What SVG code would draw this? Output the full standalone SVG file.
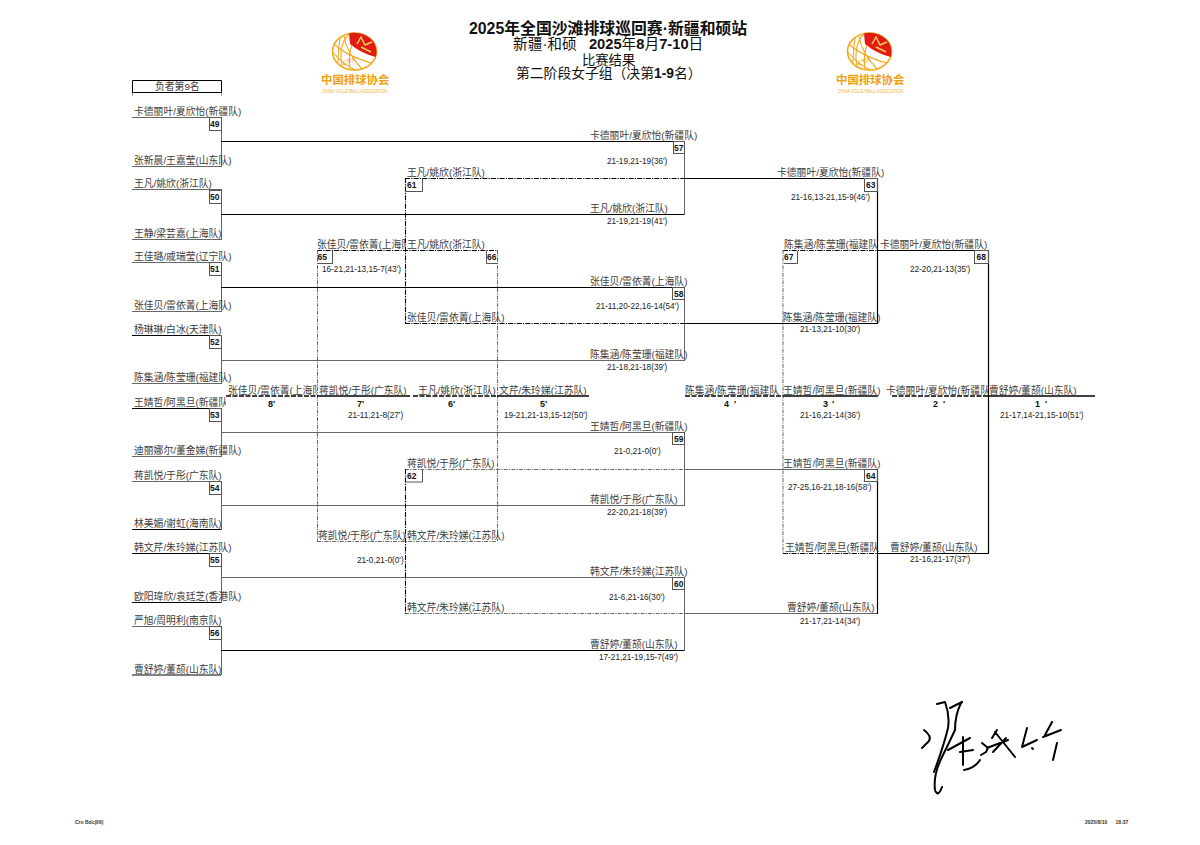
<svg xmlns="http://www.w3.org/2000/svg" width="1200" height="845" viewBox="0 0 1200 845">
<style>
text{font-family:"Liberation Sans","Noto Sans CJK SC",sans-serif;white-space:pre}
.t{font-size:9.8px;fill:#3c3c3c}
.s{font-size:8.2px;fill:#222}
.n{font-size:8.5px;font-weight:bold;fill:#111}
.p{font-size:9px;font-weight:bold;fill:#111}
.h{fill:#111}
.l0{font-size:15.85px}
.l1{font-size:14.7px}
.l2{font-size:13.3px}
.l3{font-size:13.8px}
.lg{font-size:11.4px;font-weight:bold;fill:#f0a010}
.le{font-size:5px;fill:#eeb040}
.cva{font-size:7px;font-weight:bold;font-style:italic;fill:#eea010;font-family:"Liberation Serif",serif}
.f{font-size:5px;font-weight:bold;fill:#333}
line,path.c,rect{fill:none}
.b{stroke:#000;stroke-width:1.2}
.g{stroke:#666;stroke-width:1}
.bd{stroke:#000;stroke-width:1.1;stroke-dasharray:5 1.2 1.2 1.2}
.gd{stroke:#666;stroke-width:1;stroke-dasharray:4 1.2 1.2 1.2}
.pb{stroke:#000;stroke-width:1.6}
.pd{stroke:#000;stroke-width:1.6;stroke-dasharray:5 1.5}
.box{stroke:#555;stroke-width:1;fill:none}
.sig{fill:none;stroke:#000;stroke-width:2;stroke-linecap:round;stroke-linejoin:round}
</style>
<defs>
<clipPath id="c1"><rect x="130" y="392" width="96" height="20"/></clipPath>
<clipPath id="c2"><rect x="226" y="380" width="91" height="20"/></clipPath>
<clipPath id="c3"><rect x="886" y="380" width="102" height="20"/></clipPath>
<clipPath id="c4"><rect x="317" y="238" width="88" height="14"/></clipPath>
<g id="ball">
<ellipse cx="354.5" cy="51.5" rx="22" ry="18.5" fill="#fff" stroke="#f2a81c" stroke-width="1.6"/>
<path d="M349,33.4 A22,18.5 0 0 1 376.5,51.5 L376,57 Q362,54 350,44 Z" fill="#e11a12"/>
<path d="M357,44 L361,37 L365,45 L372,42 M361,47 L371,52" fill="none" stroke="#f6d060" stroke-width="1.5"/>
<path d="M349,34 Q338,45 342,67 M344,36 Q346,52 362,69 M334,44 Q345,55 371,63 M332.5,52 Q345,66 356,70 M352,45 Q348,55 350,69 M340,38 Q338,50 338,62" fill="none" stroke="#f2a81c" stroke-width="1.1"/>
</g>
</defs>

<g id="connectors">
<line class="g" x1="132" y1="117.5" x2="221" y2="117.5"/>
<line class="g" x1="132" y1="166.5" x2="221" y2="166.5"/>
<line class="g" x1="132" y1="189.5" x2="221" y2="189.5"/>
<line class="g" x1="132" y1="239.5" x2="221" y2="239.5"/>
<line class="g" x1="132" y1="262.5" x2="221" y2="262.5"/>
<line class="g" x1="132" y1="311.5" x2="221" y2="311.5"/>
<line class="b" x1="132" y1="335.5" x2="221" y2="335.5"/>
<line class="g" x1="132" y1="383.5" x2="221" y2="383.5"/>
<line class="b" x1="132" y1="408.5" x2="221" y2="408.5"/>
<line class="g" x1="132" y1="456.5" x2="221" y2="456.5"/>
<line class="g" x1="132" y1="481.5" x2="221" y2="481.5"/>
<line class="b" x1="132" y1="529.5" x2="221" y2="529.5"/>
<line class="b" x1="132" y1="553.5" x2="221" y2="553.5"/>
<line class="b" x1="132" y1="602.5" x2="221" y2="602.5"/>
<line class="g" x1="132" y1="626.5" x2="221" y2="626.5"/>
<line class="b" x1="132" y1="675" x2="221" y2="675"/>
<line class="g" x1="221.5" y1="117" x2="221.5" y2="167"/>
<line class="g" x1="221.5" y1="189" x2="221.5" y2="240"/>
<line class="g" x1="221.5" y1="262" x2="221.5" y2="312"/>
<line class="g" x1="221.5" y1="335" x2="221.5" y2="384"/>
<line class="g" x1="221.5" y1="408" x2="221.5" y2="457"/>
<line class="g" x1="221.5" y1="481" x2="221.5" y2="530"/>
<line class="g" x1="221.5" y1="553" x2="221.5" y2="603"/>
<line class="g" x1="221.5" y1="626" x2="221.5" y2="675"/>
<line class="b" x1="221" y1="141.5" x2="685" y2="141.5"/>
<line class="b" x1="221" y1="214.5" x2="685" y2="214.5"/>
<line class="b" x1="221" y1="287.5" x2="685" y2="287.5"/>
<line class="g" x1="221" y1="360.5" x2="685" y2="360.5"/>
<line class="g" x1="221" y1="432.5" x2="685" y2="432.5"/>
<line class="g" x1="221" y1="505.5" x2="685" y2="505.5"/>
<line class="g" x1="221" y1="577.5" x2="685" y2="577.5"/>
<line class="b" x1="221" y1="650.5" x2="685" y2="650.5"/>
<line class="g" x1="684.5" y1="141" x2="684.5" y2="215"/>
<line class="g" x1="684.5" y1="287" x2="684.5" y2="361"/>
<line class="g" x1="684.5" y1="432" x2="684.5" y2="506"/>
<line class="g" x1="684.5" y1="577" x2="684.5" y2="651"/>
<line class="bd" x1="405" y1="178.5" x2="685" y2="178.5"/>
<line class="b" x1="685" y1="178.5" x2="877" y2="178.5"/>
<line class="bd" x1="405.5" y1="178" x2="405.5" y2="324"/>
<line class="bd" x1="405" y1="323.5" x2="685" y2="323.5"/>
<line class="b" x1="685" y1="323.5" x2="877" y2="323.5"/>
<line class="b" x1="877.5" y1="178" x2="877.5" y2="324"/>
<line class="gd" x1="405" y1="469.5" x2="685" y2="469.5"/>
<line class="g" x1="685" y1="469.5" x2="877" y2="469.5"/>
<line class="gd" x1="405" y1="613.5" x2="685" y2="613.5"/>
<line class="g" x1="685" y1="613.5" x2="877" y2="613.5"/>
<line class="bd" x1="405.5" y1="469" x2="405.5" y2="614"/>
<line class="b" x1="877.5" y1="469" x2="877.5" y2="614"/>
<line class="bd" x1="317" y1="250.5" x2="497" y2="250.5"/>
<line class="gd" x1="317.5" y1="250" x2="317.5" y2="541"/>
<line class="gd" x1="497.5" y1="250" x2="497.5" y2="541"/>
<line class="gd" x1="317" y1="541.5" x2="497" y2="541.5"/>
<line class="bd" x1="783" y1="250.5" x2="877" y2="250.5"/>
<line class="b" x1="877" y1="250.5" x2="988" y2="250.5"/>
<line class="gd" x1="783" y1="250" x2="783" y2="553"/>
<line class="bd" x1="783" y1="553.5" x2="877" y2="553.5"/>
<line class="b" x1="877" y1="553.5" x2="989" y2="553.5"/>
<line class="b" x1="988.5" y1="250" x2="988.5" y2="554"/>
<line class="pd" x1="226" y1="396" x2="317" y2="396"/>
<line class="pb" x1="317" y1="396" x2="410" y2="396"/>
<line class="pd" x1="413" y1="396" x2="497" y2="396"/>
<line class="pb" x1="497" y1="396" x2="589" y2="396"/>
<line class="pd" x1="685" y1="396" x2="783" y2="396"/>
<line class="pb" x1="783" y1="396" x2="878" y2="396"/>
<line class="pd" x1="892" y1="396" x2="988" y2="396"/>
<line class="pb" x1="988" y1="396" x2="1095" y2="396"/>
</g>

<g id="title">
<text class="l0 h" x="469" y="34" font-weight="bold">2025年全国沙滩排球巡回赛·新疆和硕站</text>
<text class="l1 h" x="513" y="49"><tspan>新疆·和硕   </tspan><tspan font-weight="bold">2025</tspan>年<tspan font-weight="bold">8</tspan>月<tspan font-weight="bold">7-10</tspan>日</text>
<text class="l2 h" x="582" y="65">比赛结果</text>
<text class="l3 h" x="516" y="78">第二阶段女子组（决第<tspan font-weight="bold">1-9</tspan>名）</text>
</g>

<g id="logo-left">
<use href="#ball"/>
<text class="cva" x="344" y="66" transform="rotate(-25 344 66)">CVA</text>
<text class="lg" x="321" y="84">中国排球协会</text>
<text class="le" x="322" y="93" textLength="65" lengthAdjust="spacingAndGlyphs">CHINA VOLLEYBALL ASSOCIATION</text>
</g>
<g id="logo-right">
<use href="#ball" x="515"/>
<text class="cva" x="859" y="66" transform="rotate(-25 859 66)">CVA</text>
<text class="lg" x="836" y="84">中国排球协会</text>
<text class="le" x="838" y="93" textLength="65" lengthAdjust="spacingAndGlyphs">CHINA VOLLEYBALL ASSOCIATION</text>
</g>

<g id="header-loser">
<path d="M132.5,92.5 V80.5 H221.5 V92.5" fill="none" stroke="#000" stroke-width="1"/>
<line class="b" x1="132" y1="92.5" x2="221.5" y2="92.5"/>
<path d="M132.5,93 V96 M221.5,93 V96" fill="none" stroke="#999"/>
<text class="t" x="155" y="90">负者第9名</text>
</g>

<g id="round1-teams">
<text class="t" x="134" y="115">卡德丽叶/夏欣怡(新疆队)</text>
<text class="t" x="134" y="164">张新晨/王嘉莹(山东队)</text>
<text class="t" x="134" y="187">王凡/姚欣(浙江队)</text>
<text class="t" x="134" y="237">王静/梁芸嘉(上海队)</text>
<text class="t" x="134" y="260">王佳璐/戚瑞莹(辽宁队)</text>
<text class="t" x="134" y="309">张佳贝/雷依菁(上海队)</text>
<text class="t" x="134" y="333">杨琳琳/白冰(天津队)</text>
<text class="t" x="134" y="381">陈集涵/陈莹珊(福建队)</text>
<text class="t" x="134" y="406" clip-path="url(#c1)">王婧哲/阿黑旦(新疆队</text>
<text class="t" x="134" y="454">迪丽娜尔/董金娣(新疆队)</text>
<text class="t" x="134" y="479">蒋凯悦/于彤(广东队)</text>
<text class="t" x="134" y="527">林美媚/谢虹(海南队)</text>
<text class="t" x="134" y="551">韩文芹/朱玲娣(江苏队)</text>
<text class="t" x="134" y="600">欧阳瑋欣/袁廷芝(香港队)</text>
<text class="t" x="134" y="624">严旭/周明利(南京队)</text>
<text class="t" x="134" y="673">曹舒婷/董颉(山东队)</text>
</g>

<g id="m49"><rect class="box" x="209.5" y="117.5" width="12" height="13"/><text class="n" x="210" y="127">49</text></g>
<g id="m50"><rect class="box" x="209.5" y="190.5" width="12" height="13"/><text class="n" x="210" y="200">50</text></g>
<g id="m51"><rect class="box" x="209.5" y="262.5" width="12" height="13"/><text class="n" x="210" y="272">51</text></g>
<g id="m52"><rect class="box" x="209.5" y="335.5" width="12" height="13"/><text class="n" x="210" y="345">52</text></g>
<g id="m53"><rect class="box" x="209.5" y="408.5" width="12" height="13"/><text class="n" x="210" y="418">53</text></g>
<g id="m54"><rect class="box" x="209.5" y="481.5" width="12" height="13"/><text class="n" x="210" y="491">54</text></g>
<g id="m55"><rect class="box" x="209.5" y="553.5" width="12" height="13"/><text class="n" x="210" y="563">55</text></g>
<g id="m56"><rect class="box" x="209.5" y="626.5" width="12" height="13"/><text class="n" x="210" y="636">56</text></g>

<g id="m57"><rect class="box" x="673.5" y="141.5" width="11" height="12"/><text class="n" x="674" y="151">57</text>
<text class="t" x="590" y="139">卡德丽叶/夏欣怡(新疆队)</text><text class="s" x="607" y="164">21-19,21-19(36')</text>
<text class="t" x="590" y="212">王凡/姚欣(浙江队)</text><text class="s" x="607" y="224">21-19,21-19(41')</text></g>
<g id="m58"><rect class="box" x="672.5" y="287.5" width="12" height="12"/><text class="n" x="674" y="297">58</text>
<text class="t" x="590" y="285">张佳贝/雷依菁(上海队)</text><text class="s" x="596" y="309">21-11,20-22,16-14(54')</text>
<text class="t" x="590" y="358">陈集涵/陈莹珊(福建队)</text><text class="s" x="607" y="370">21-18,21-18(39')</text></g>
<g id="m59"><rect class="box" x="672.5" y="432.5" width="12" height="12"/><text class="n" x="674" y="442">59</text>
<text class="t" x="590" y="430">王婧哲/阿黑旦(新疆队)</text><text class="s" x="614" y="454">21-0,21-0(0')</text>
<text class="t" x="590" y="503">蒋凯悦/于彤(广东队)</text><text class="s" x="607" y="515">22-20,21-18(39')</text></g>
<g id="m60"><rect class="box" x="672.5" y="577.5" width="12" height="12"/><text class="n" x="674" y="587">60</text>
<text class="t" x="590" y="575">韩文芹/朱玲娣(江苏队)</text><text class="s" x="609" y="600">21-6,21-16(30')</text>
<text class="t" x="590" y="648">曹舒婷/董颉(山东队)</text><text class="s" x="599" y="660">17-21,21-19,15-7(49')</text></g>

<g id="m61"><path class="box" d="M406,191.5 H422.5 V179"/><text class="n" x="407" y="188">61</text>
<text class="t" x="407" y="176">王凡/姚欣(浙江队)</text>
<text class="t" x="407" y="321">张佳贝/雷依菁(上海队)</text></g>
<g id="m62"><path class="box" d="M406,482 H422.5 V470"/><text class="n" x="407" y="479">62</text>
<text class="t" x="407" y="467">蒋凯悦/于彤(广东队)</text>
<text class="t" x="407" y="611">韩文芹/朱玲娣(江苏队)</text></g>
<g id="m63"><rect class="box" x="864.5" y="178.5" width="13" height="13"/><text class="n" x="866" y="188">63</text>
<text class="t" x="777" y="176">卡德丽叶/夏欣怡(新疆队)</text><text class="s" x="791" y="200">21-16,13-21,15-9(46')</text>
<text class="t" x="783" y="321">陈集涵/陈莹珊(福建队)</text><text class="s" x="800" y="332">21-13,21-10(30')</text></g>
<g id="m64"><rect class="box" x="864.5" y="469.5" width="13" height="12"/><text class="n" x="866" y="479">64</text>
<text class="t" x="783" y="467">王婧哲/阿黑旦(新疆队)</text><text class="s" x="788" y="490">27-25,16-21,18-16(58')</text>
<text class="t" x="787" y="611">曹舒婷/董颉(山东队)</text><text class="s" x="800" y="624">21-17,21-14(34')</text></g>
<g id="m65"><path class="box" d="M318,263.5 H332.5 V251"/><text class="n" x="317.5" y="260">65</text>
<text class="t" x="317" y="248" clip-path="url(#c4)">张佳贝/雷依菁(上海队</text><text class="s" x="322" y="272">16-21,21-13,15-7(43')</text>
<text class="t" x="318" y="539">蒋凯悦/于彤(广东队)</text><text class="s" x="357" y="563">21-0,21-0(0')</text></g>
<g id="m66"><path class="box" d="M486.5,251 V263.5 H497"/><text class="n" x="487" y="260">66</text>
<text class="t" x="407" y="248">王凡/姚欣(浙江队)</text>
<text class="t" x="407" y="539">韩文芹/朱玲娣(江苏队)</text></g>
<g id="m67"><path class="box" d="M784,263.5 H797.5 V251"/><text class="n" x="784" y="260">67</text>
<text class="t" x="784" y="248">陈集涵/陈莹珊(福建队</text>
<text class="t" x="785" y="551">王婧哲/阿黑旦(新疆队</text></g>
<g id="m68"><rect class="box" x="974.5" y="250.5" width="14" height="13"/><text class="n" x="976.5" y="260">68</text>
<text class="t" x="880" y="248">卡德丽叶/夏欣怡(新疆队)</text><text class="s" x="910" y="272">22-20,21-13(35')</text>
<text class="t" x="890" y="551">曹舒婷/董颉(山东队)</text><text class="s" x="910" y="562">21-16,21-17(37')</text></g>

<g id="placements">
<text class="t" x="228" y="394" clip-path="url(#c2)">张佳贝/雷依菁(上海队</text><text class="p" x="268" y="407">8'</text>
<text class="t" x="319" y="394">蒋凯悦/于彤(广东队)</text><text class="p" x="357" y="407">7'</text><text class="s" x="348" y="418">21-11,21-8(27')</text>
<text class="t" x="418" y="394">王凡/姚欣(浙江队)</text><text class="p" x="448" y="407">6'</text>
<text class="t" x="499" y="394">文芹/朱玲娣(江苏队)</text><text class="p" x="540" y="407">5'</text><text class="s" x="504" y="418">19-21,21-13,15-12(50')</text>
<text class="t" x="685" y="394">陈集涵/陈莹珊(福建队</text><text class="p" x="724" y="407">4<tspan dx="5">'</tspan></text>
<text class="t" x="783" y="394">王婧哲/阿黑旦(新疆队)</text><text class="p" x="823" y="407">3<tspan dx="4">'</tspan></text><text class="s" x="800" y="418">21-16,21-14(36')</text>
<text class="t" x="886" y="394" clip-path="url(#c3)">卡德丽叶/夏欣怡(新疆队</text><text class="p" x="933" y="407">2<tspan dx="5">'</tspan></text>
<text class="t" x="989" y="394">曹舒婷/董颉(山东队)</text><text class="p" x="1035" y="407">1<tspan dx="5">'</tspan></text><text class="s" x="1000" y="418">21-17,14-21,15-10(51')</text>
</g>

<g id="signature">
<path class="sig" d="M924,730 Q932,736 929,741 L922,748"/>
<path class="sig" d="M937,704 L945,702 Q950,715 948,728 Q944,745 934,772"/>
<path class="sig" d="M962,702 L961,703 Q955,715 955,730 Q948,745 942,757 Q933,775 935,790 Q938,798 942,787" stroke-width="2.4"/>
<path class="sig" d="M962,702 L950,708"/>
<path class="sig" d="M948,750 L970,738 M963,737 L963,765 M964,770 Q975,768 980,760 M960,752 L973,750"/>
<path class="sig" d="M982,743 L988,748 L986,752 L981,755 M992,738 L997,730 M987,748 L1008,740 M995,732 L1015,757 M1006,738 L993,752"/>
<path class="sig" d="M1027,728 L1022,747 L1037,740 M1032,748 L1033,749"/>
<path class="sig" d="M1052,722 L1045,735 M1043,737 L1061,730 M1057,743 L1053,760"/>
</g>

<g id="footer">
<text class="f" x="75" y="824">Cro Bdc(06)</text>
<text class="f" x="1085" y="824">2025/8/10      18:37</text>
</g>
</svg>
